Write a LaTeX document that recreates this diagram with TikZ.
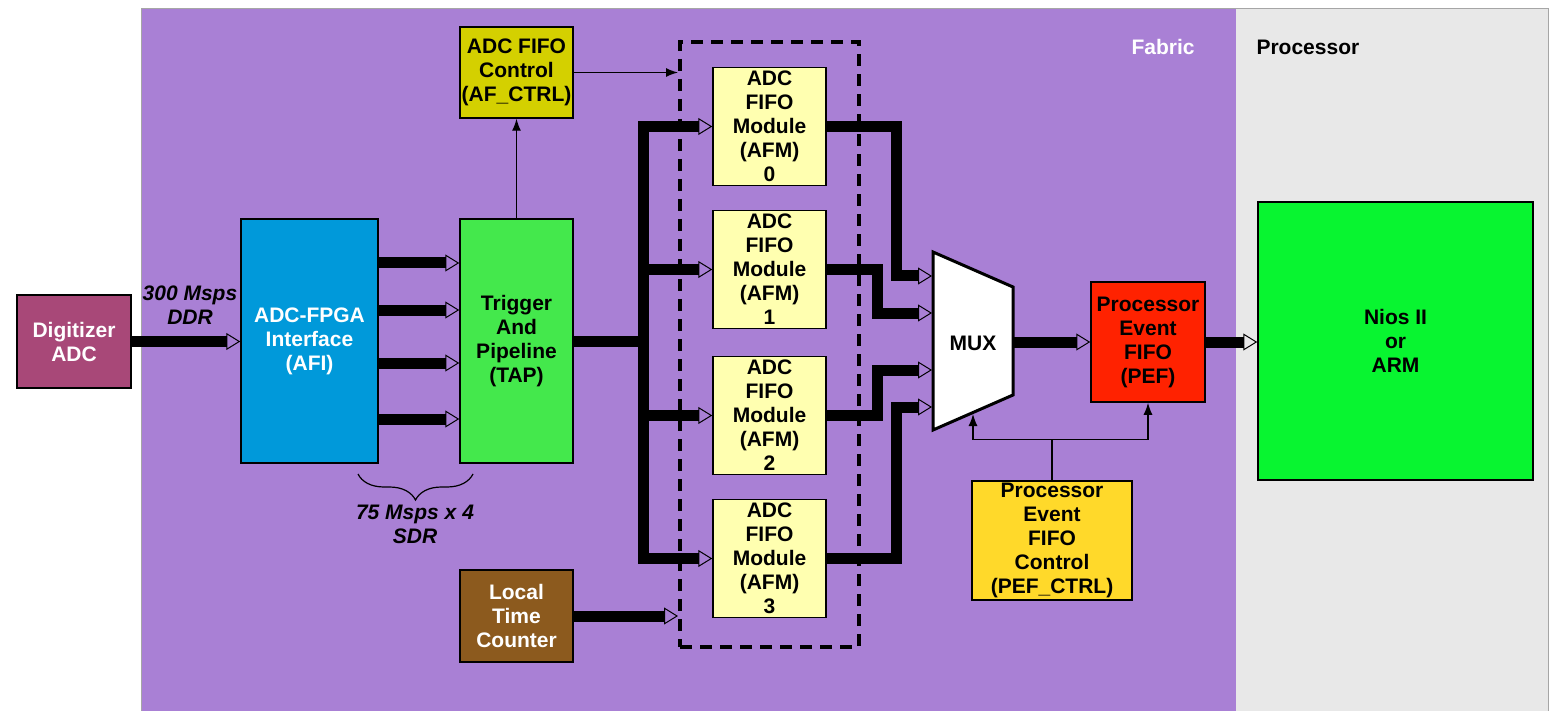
\documentclass[tikz,border=0pt]{standalone}
\usepackage{fontspec}
\setmainfont{Liberation Sans}
\usetikzlibrary{arrows.meta,positioning,decorations.pathreplacing}
\definecolor{fabricbg}{RGB}{169,128,213}
\definecolor{procbg}{RGB}{232,232,232}
\definecolor{adcred}{RGB}{168,72,120}
\definecolor{afiblue}{RGB}{0,153,218}
\definecolor{tapgreen}{RGB}{68,232,76}
\definecolor{afcyellow}{RGB}{212,208,0}
\definecolor{afmyellow}{RGB}{255,255,176}
\definecolor{ltcbrown}{RGB}{140,90,30}
\definecolor{pefred}{RGB}{255,34,0}
\definecolor{pefcyellow}{RGB}{255,217,42}
\definecolor{niosgreen}{RGB}{8,245,48}
\tikzset{
  blk/.style={draw, line width=1.5pt, align=center, inner sep=0pt},
  busline/.style={line width=11pt, line join=miter},
  bus/.style={busline, -{Triangle[open,length=14pt,width=17pt,line width=1pt]}},
  ctl/.style={line width=1.3pt, -{Latex[length=12pt,width=9pt]}},
  rate/.style={align=center, font=\fontsize{21}{24}\selectfont\bfseries\itshape},
}

\begin{document}
\begin{tikzpicture}[x=1pt,y=-1pt,font=\fontsize{21}{24}\selectfont\bfseries]
    \useasboundingbox (0,0) rectangle (1560,711);
    % fabric and processor areas
    \fill[fabricbg] (141,9) rectangle (1236,711);
    \fill[procbg] (1236,9) rectangle (1548,711);
    \draw[gray!70, line width=1pt] (141,711) |- (1548,9) -- (1548,711);
    \node[text=white] (fablbl) at (1163,47) {Fabric};
    \node[anchor=west] (proclbl) at (1253,47) {Processor};

    \node[blk, fill=adcred, text=white, minimum width=114pt, minimum height=93pt] (adc) at (74,341.5) {Digitizer\\ADC};
    \node[blk, fill=afiblue, text=white, minimum width=137pt, minimum height=244pt] (afi) at (309.5,341) {ADC-FPGA\\Interface\\(AFI)};
    \node[blk, fill=tapgreen, minimum width=113pt, minimum height=244pt] (tap) at (516.5,341) {Trigger\\And\\Pipeline\\(TAP)};
    \node[blk, fill=afcyellow, minimum width=113pt, minimum height=91pt] (afctrl) at (516.5,72.5) {ADC FIFO\\Control\\(AF\_CTRL)};
    \node[blk, fill=ltcbrown, text=white, minimum width=113pt, minimum height=92pt] (ltc) at (516.5,616) {Local\\Time\\Counter};
    \node[draw, line width=4pt, dash pattern=on 12pt off 8pt, minimum width=179pt, minimum height=605pt] (afmgroup) at (769.5,344.5) {};
    \foreach \i/\yy in {0/126.5,1/269.5,2/415.5,3/558.5}
      \node[blk, fill=afmyellow, minimum width=113pt, minimum height=118pt] (afm\i) at (769.5,\yy) {ADC\\FIFO\\Module\\(AFM)\\\i};

    % multiplexer
    \draw[line width=3pt, fill=white, line join=miter] (933,252) -- (1013,287) -- (1013,395) -- (933,430) -- cycle;
    \node (mux) at (973,343) {MUX};
    \coordinate (muxout) at (1013,342);
    \coordinate (muxsel) at (973,414);
    \foreach \k/\yy in {1/276,2/313,3/370,4/407}
      \coordinate (muxin\k) at (932,\yy);

    \node[blk, fill=pefred, minimum width=114pt, minimum height=120pt] (pef) at (1148,342) {Processor\\Event\\FIFO\\(PEF)};
    \node[blk, fill=pefcyellow, minimum width=160pt, minimum height=119pt] (pefctrl) at (1052,540.5) {Processor\\Event\\FIFO\\Control\\(PEF\_CTRL)};
    \node[blk, fill=niosgreen, minimum width=275pt, minimum height=278pt] (nios) at (1395.5,341) {Nios II\\or\\ARM};

    \node[rate] (ddrlbl) at (190,305.5) {300 Msps\\DDR};
    \node[rate] (sdrlbl) at (415,524) {75 Msps x 4\\SDR};
    \draw[decorate, decoration={brace, amplitude=26pt}, line width=1.2pt] (473,474) -- (358,474);

    % data paths
    \draw[bus] (adc.east) -- (afi.west |- adc.east);
    \foreach \yy in {263,310,363,419}
      \draw[bus] (afi.east |- 0,\yy) -- (tap.west |- 0,\yy);
    \draw[busline] (tap.east) -- (643,341) coordinate (split);
    \foreach \i in {0,...,3}
      \draw[bus] (split) |- (afm\i.west);
    \draw[bus] (ltc.east) -- (ltc.east -| afmgroup.west);
    \foreach \i/\k/\dx in {0/1/36,1/2/55,2/3/55,3/4/36}
      \draw[bus] (afm\i.east) -| ([xshift=-\dx]muxin\k) -- (muxin\k);
    \draw[bus] (muxout) -- (pef.west |- muxout);
    \draw[bus] (pef.east) -- (nios.west |- pef.east);

    % control
    \draw[ctl] (tap.north) -- (afctrl.south);
    \draw[ctl] (afctrl.east) -- (afctrl.east -| afmgroup.west);
    \draw[ctl] (pefctrl.north) -- ++(0,-41) coordinate (tee) -| (muxsel);
    \draw[ctl] (tee) -| (pef.south);
\end{tikzpicture}
\end{document}
